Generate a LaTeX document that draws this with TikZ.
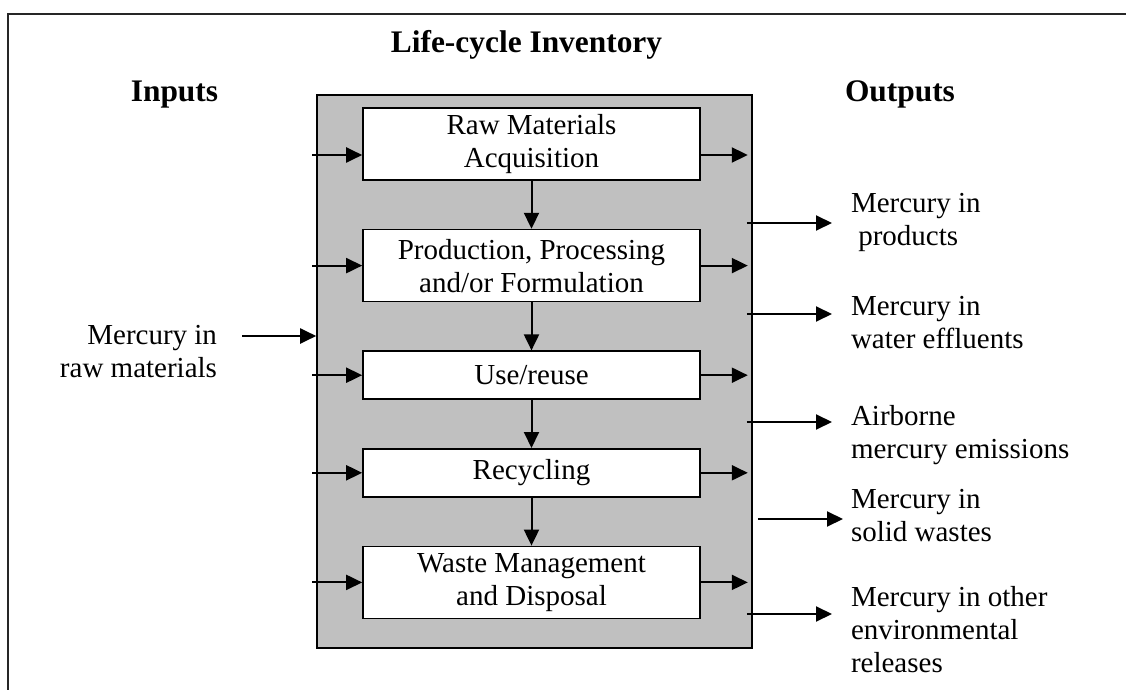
\documentclass[tikz,border=0pt]{standalone}
\usepackage{fontspec}
\setmainfont{Liberation Serif}
\usetikzlibrary{arrows.meta,positioning}
\definecolor{boxgray}{HTML}{C0C0C0}

\begin{document}
\begin{tikzpicture}[x=0.5pt,y=-0.5pt,->,>={Triangle[length=8pt,width=7.5pt]},line width=1pt,node distance=24pt,
	stage node/.style={draw,fill=white,line width=0.8pt,minimum width=168.5pt,inner sep=0pt,align=center,font=\fontsize{14.5}{16.5}\selectfont},
	head node/.style={inner sep=0pt,font=\fontsize{15.7}{18}\selectfont\bfseries},
	out node/.style={inner sep=0pt,align=left,font=\fontsize{14.5}{16.5}\selectfont}]
	\useasboundingbox (0,0) rectangle (1126,690);
	\draw[-,line width=0.7pt,black!85] (8,690) -- (8,14) -- (1126,14);

	\node[head node,anchor=base] (title) at (526.5,53) {Life-cycle Inventory};
	\node[head node,anchor=base] (inputs) at (174.5,102) {Inputs};
	\node[head node,anchor=base] (outputs) at (900,102) {Outputs};

	\node[draw,fill=boxgray,line width=0.8pt,minimum width=217.5pt,minimum height=276.5pt] (lca) at (534.5,371.5) {};

	\node[stage node,minimum height=36pt] (raw) at (531.5,144) {Raw Materials\\Acquisition};
	\node[stage node,minimum height=36pt,below=of raw] (prod) {Production, Processing\\and/or Formulation};
	\node[stage node,minimum height=24pt,below=of prod] (use) {Use/reuse};
	\node[stage node,minimum height=24pt,below=of use] (recyc) {Recycling};
	\node[stage node,minimum height=36pt,below=of recyc] (waste) {Waste Management\\and Disposal};

	\foreach \a/\b in {raw/prod,prod/use,use/recyc,recyc/waste}
		\draw (\a) -- (\b);

	\coordinate (gl) at ([xshift=-2pt]lca.west);
	\coordinate (gr) at ([xshift=-2.5pt]lca.east);
	\foreach \s/\dy in {raw/-5.5pt,prod/0pt,use/0pt,recyc/0pt,waste/0pt}{
		\coordinate (in) at ([yshift=\dy]\s.west);
		\coordinate (out) at ([yshift=\dy]\s.east);
		\draw (gl |- in) -- (in);
		\draw (out) -- (gr |- out);
	}

	% inputs
	\node[out node,align=right,anchor=north east] (rawlbl) at (218,324) {Mercury in\\raw materials};
	\coordinate (rawsrc) at (242,336);
	\draw (rawsrc) -- (rawsrc -| lca.west);

	% outputs
	\coordinate (gout) at ([xshift=-3pt]lca.east);
	\coordinate (gout2) at ([xshift=2.5pt]lca.east);
	\coordinate (prodtip) at (832,223);
	\coordinate (watertip) at (832,314);
	\coordinate (airtip) at (832,422);
	\coordinate (solidtip) at (843,519);
	\coordinate (othertip) at (832,614);
	\foreach \t in {prodtip,watertip,airtip,othertip}
		\draw (gout |- \t) -- (\t);
	\draw (gout2 |- solidtip) -- (solidtip);

	\node[out node,anchor=north west] (prodlbl) at (850,192) {Mercury in\\\hspace*{0.25em}products};
	\node[out node,anchor=north west] (waterlbl) at (850,295) {Mercury in\\water effluents};
	\node[out node,anchor=north west] (airlbl) at (850,404) {Airborne\\mercury emissions};
	\node[out node,anchor=north west] (solidlbl) at (850,488) {Mercury in\\solid wastes};
	\node[out node,anchor=north west] (otherlbl) at (850,585) {Mercury in other\\environmental\\releases};
\end{tikzpicture}
\end{document}
